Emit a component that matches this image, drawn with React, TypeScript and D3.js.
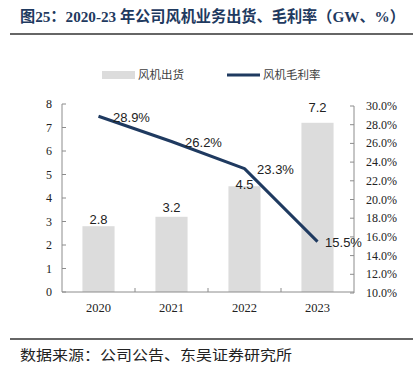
import React from "react";
import * as d3 from "d3";

const years = ["2020", "2021", "2022", "2023"];
const shipments = [2.8, 3.2, 4.5, 7.2];
const margins = [28.9, 26.2, 23.3, 15.5];
const leftTicks = [0, 1, 2, 3, 4, 5, 6, 7, 8];
const rightTicks = [10, 12, 14, 16, 18, 20, 22, 24, 26, 28, 30];

// label styling offsets (px)
const barLabelGap = [7, 9, 2, 15];
const lineLabelDx = [33, 32, 31, 26];

const W = 420;
const H = 377;
const NAVY = "#1F3A60";
const BAR = "#DCDCDC";
const AXIS = "#8C8C8C";

export default function App() {
  const x = d3.scaleBand<string>().domain(years).range([62, 354]).paddingInner(0).paddingOuter(0);
  const yL = d3.scaleLinear().domain([0, 8]).range([292, 104]);
  const yR = d3.scaleLinear().domain([10, 30]).range([293, 106]);
  const bw = x.bandwidth() * 0.44;
  const cx = (d: string) => (x(d) as number) + x.bandwidth() / 2;
  const line = d3
    .line<number>()
    .x((_, i) => cx(years[i]))
    .y((d) => yR(d));

  const serif = "'Liberation Serif', 'DejaVu Serif', serif";
  const cjk = "'Noto Sans CJK SC', sans-serif";
  const titleFont = "'Liberation Serif', 'Noto Sans CJK SC', serif";
  const sans = "'Liberation Sans', Arial, sans-serif";

  return (
    <svg width={W} height={H} style={{ position: "absolute", left: 0, top: 0, background: "#fff" }}>
      <text
        x={20}
        y={22}
        fontFamily={titleFont}
        fontWeight="bold"
        fontSize={15.5}
        fill={NAVY}
        textLength={385}
        lengthAdjust="spacingAndGlyphs"
      >
        图25：2020-23 年公司风机业务出货、毛利率（GW、%）
      </text>
      <line x1={10} x2={413} y1={34} y2={34} stroke="#333" strokeWidth={1.5} />

      {/* legend */}
      <rect x={102} y={71} width={33} height={8} fill={BAR} />
      <text x={138} y={79} fontFamily={cjk} fontSize={11.5} fill="#404040">
        风机出货
      </text>
      <line x1={227} x2={260} y1={75} y2={75} stroke={NAVY} strokeWidth={3} />
      <text x={263} y={79} fontFamily={cjk} fontSize={11.5} fill="#404040">
        风机毛利率
      </text>

      {/* bars */}
      {shipments.map((v, i) => (
        <rect
          key={"b" + i}
          x={cx(years[i]) - bw / 2}
          y={yL(v)}
          width={bw}
          height={yL(0) - yL(v)}
          fill={BAR}
        />
      ))}
      {shipments.map((v, i) => (
        <text
          key={"bl" + i}
          x={cx(years[i])}
          y={yL(v) - barLabelGap[i] + 4.5}
          textAnchor="middle"
          fontFamily={sans}
          fontSize={13}
          fill="#222"
        >
          {v.toFixed(1)}
        </text>
      ))}

      {/* left axis */}
      <line x1={62} x2={62} y1={yL(8)} y2={yL(0)} stroke={AXIS} />
      {leftTicks.map((t) => (
        <g key={"lt" + t}>
          <line x1={62} x2={66} y1={yL(t)} y2={yL(t)} stroke={AXIS} />
          <text x={52} y={yL(t) + 4} textAnchor="end" fontFamily={serif} fontSize={12} fill="#222">
            {t}
          </text>
        </g>
      ))}

      {/* right axis */}
      <line x1={354} x2={354} y1={yR(30)} y2={yR(10)} stroke={AXIS} />
      {rightTicks.map((t) => (
        <g key={"rt" + t}>
          <line x1={350} x2={354} y1={yR(t)} y2={yR(t)} stroke={AXIS} />
          <text x={366} y={yR(t) + 4} fontFamily={serif} fontSize={12} fill="#222">
            {t.toFixed(1) + "%"}
          </text>
        </g>
      ))}

      {/* x axis */}
      <line x1={62} x2={354} y1={292} y2={292} stroke={AXIS} />
      {years.map((y, i) =>
        i > 0 ? (
          <line key={"xt" + i} x1={x(y) as number} x2={x(y) as number} y1={288} y2={292} stroke={AXIS} />
        ) : null
      )}
      {years.map((y) => (
        <text key={"xl" + y} x={cx(y)} y={312} textAnchor="middle" fontFamily={serif} fontSize={12.5} fill="#222">
          {y}
        </text>
      ))}

      {/* line */}
      <path d={line(margins) || ""} fill="none" stroke={NAVY} strokeWidth={3} strokeLinejoin="round" />
      {margins.map((v, i) => (
        <text
          key={"ll" + i}
          x={cx(years[i]) + lineLabelDx[i]}
          y={yR(v) + 5.5}
          textAnchor="middle"
          fontFamily={sans}
          fontSize={13}
          fill="#222"
        >
          {v.toFixed(1) + "%"}
        </text>
      ))}

      {/* footer */}
      <line x1={10} x2={413} y1={339} y2={339} stroke="#333" strokeWidth={1.5} />
      <text x={20} y={360} fontFamily={cjk} fontSize={14} fill="#222" textLength={272} lengthAdjust="spacingAndGlyphs">
        数据来源：公司公告、东吴证券研究所
      </text>
    </svg>
  );
}
